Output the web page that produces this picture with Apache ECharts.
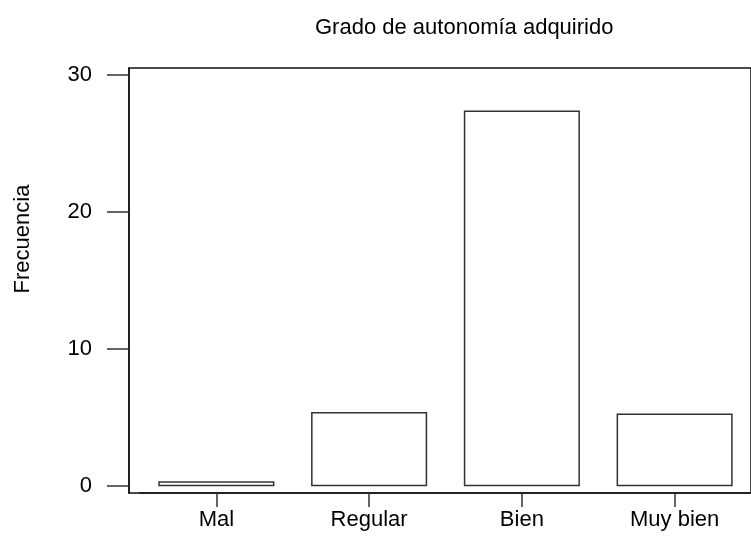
<!DOCTYPE html>
<html>
<head>
<meta charset="utf-8">
<script src="https://cdn.jsdelivr.net/npm/echarts@6/dist/echarts.min.js"></script>
<style>
  html, body { margin: 0; padding: 0; background: #fff; }
  #chart { width: 751px; height: 536px; }
</style>
</head>
<body>
<div id="chart"></div>
<script>
var categories = ['Mal', 'Regular', 'Bien', 'Muy bien'];
var frecuencias = [0.35, 5.4, 27.4, 5.3];
var yTicks = [0, 10, 20, 30];
var titulo = 'Grado de autonomía adquirido';
var ejeY = 'Frecuencia';

var font = '"Liberation Sans", Arial, sans-serif';
var chart = echarts.init(document.getElementById('chart'));

var option = {
    backgroundColor: '#fff',
    animation: false,
    title: {
        text: titulo,
        left: 315,
        top: 17,
        padding: 0,
        textStyle: { fontFamily: font, fontSize: 22, fontWeight: 'normal', color: '#000' }
    },
    graphic: [{
        type: 'text',
        x: 23,
        y: 239,
        rotation: Math.PI / 2,
        style: {
            text: ejeY,
            fontFamily: font,
            fontSize: 22,
            fill: '#000',
            align: 'center',
            verticalAlign: 'middle'
        }
    }],
    grid: [
        // data grid (bands start a bit right of the y axis)
        { left: 140, right: -2, top: 68, bottom: 43 },
        // frame
        { left: 129, right: -2, top: 68, bottom: 43, show: true, borderColor: '#111', borderWidth: 1.5, backgroundColor: 'transparent' }
    ],
    xAxis: [{
        type: 'category',
        gridIndex: 0,
        data: categories,
        axisLine: { onZero: false, lineStyle: { color: '#222', width: 2 } },
        axisTick: { show: true, alignWithLabel: true, length: 14, lineStyle: { color: '#333', width: 1.5 } },
        axisLabel: { margin: 16, fontFamily: font, fontSize: 22, color: '#000' },
        splitLine: { show: false }
    }, {
        type: 'value', gridIndex: 1, show: false
    }],
    yAxis: [{
        type: 'value',
        gridIndex: 0,
        min: -0.5,
        max: 30.5,
        offset: 11,
        axisLine: { show: true, lineStyle: { color: '#111', width: 1.5 } },
        axisTick: { show: true, length: 22, customValues: yTicks, lineStyle: { color: '#333', width: 1.5 } },
        axisLabel: { margin: 37, customValues: yTicks, fontFamily: font, fontSize: 22, color: '#000' },
        splitLine: { show: false }
    }, {
        type: 'value', gridIndex: 1, show: false
    }],
    series: [{
        type: 'bar',
        xAxisIndex: 0,
        yAxisIndex: 0,
        data: frecuencias,
        barWidth: '76%',
        itemStyle: { color: '#fff', borderColor: '#333', borderWidth: 1.5 },
        silent: true
    }]
};

chart.setOption(option);
</script>
</body>
</html>
